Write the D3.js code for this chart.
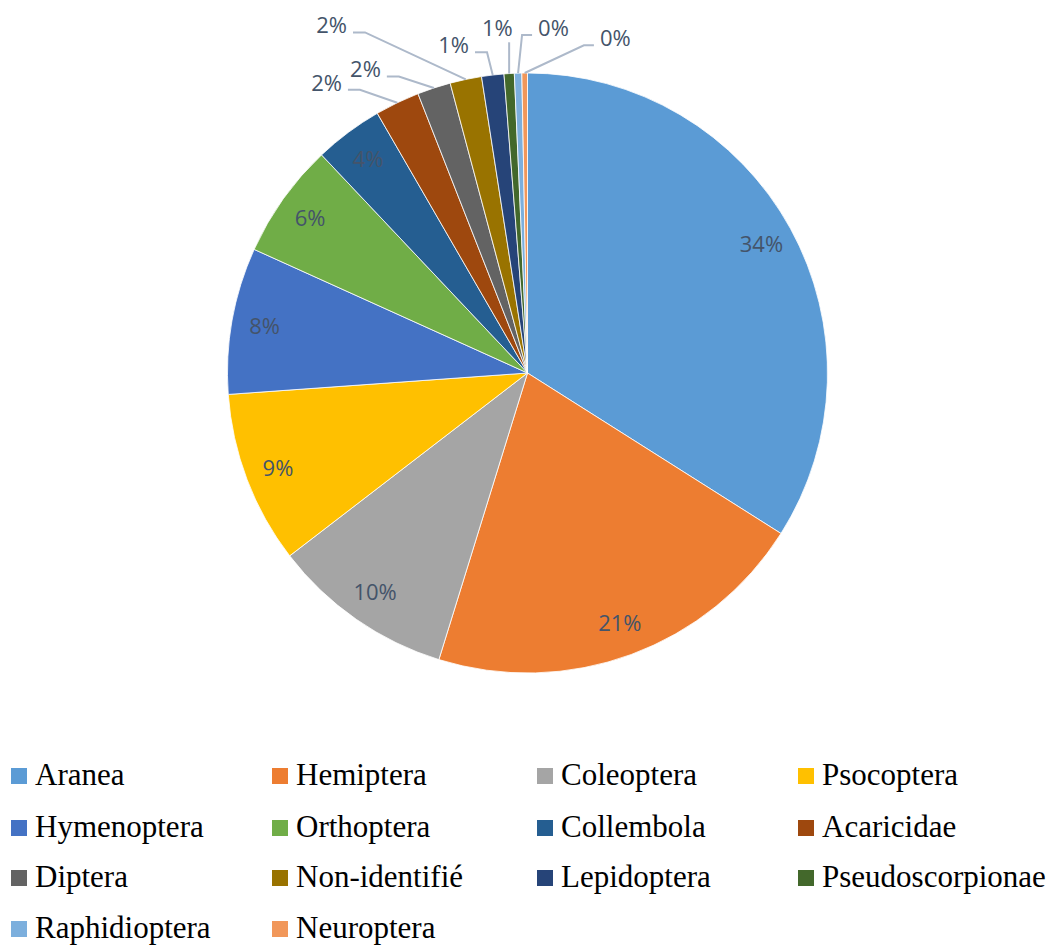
<!DOCTYPE html>
<html>
<head>
<meta charset="utf-8">
<script src="https://cdn.jsdelivr.net/npm/d3@7"></script>
<style>
body { margin: 0; background: #fff; }
svg { display: block; }
</style>
</head>
<body>
<svg id="chart" width="1059" height="947"></svg>
<script>
// share of each taxon (percent)
var categories = ["Aranea", "Hemiptera", "Coleoptera", "Psocoptera", "Hymenoptera", "Orthoptera",
	"Collembola", "Acaricidae", "Diptera", "Non-identifié", "Lepidoptera", "Pseudoscorpionae",
	"Raphidioptera", "Neuroptera"];
var values = [34.0, 20.8, 9.8, 9.3, 7.9, 6.2, 3.7, 2.4, 1.8, 1.7, 1.2, 0.55, 0.4, 0.3];
var colors = ["#5B9BD5", "#ED7D31", "#A5A5A5", "#FFC000", "#4472C4", "#70AD47",
	"#255E91", "#9E480E", "#636363", "#997300", "#264478", "#43682B", "#7CAFDD", "#F1975A"];

// where the callout labels of thin slices sit: [angle deg clockwise from top, radius]
var callouts = {
	"Acaricidae": [325.3, 353], "Diptera": [331.9, 344], "Non-identifié": [330.6, 399],
	"Lepidoptera": [347.3, 336], "Pseudoscorpionae": [355.0, 346],
	"Raphidioptera": [4.3, 346], "Neuroptera": [14.7, 346]
};

var cx = 527.5, cy = 373, radius = 300;
var svg = d3.select("#chart");
var total = d3.sum(values);
var data = categories.map(function(c, i) { return {label: c, value: values[i], color: colors[i]}; });

var pie = d3.pie().sort(null).value(function(d) { return d.value; });
var arc = d3.arc().innerRadius(0).outerRadius(radius);
var labelArc = d3.arc().innerRadius(267).outerRadius(267);
var arcs = pie(data);

var g = svg.append("g").attr("transform", "translate(" + cx + "," + cy + ")");

g.selectAll("path.slice")
	.data(arcs)
	.enter().append("path")
	.attr("class", "slice")
	.attr("d", arc)
	.style("fill", function(d) { return d.data.color; })
	.style("stroke", "#fff")
	.style("stroke-width", 0.8);

function pct(d) { return Math.round(d.data.value / total * 100) + "%"; }

/* ------- INSIDE LABELS -------*/
g.selectAll("text.inside")
	.data(arcs.filter(function(d) { return !callouts[d.data.label]; }))
	.enter().append("text")
	.attr("class", "inside")
	.attr("transform", function(d) { return "translate(" + labelArc.centroid(d) + ")"; })
	.attr("text-anchor", "middle")
	.attr("dy", "0.36em")
	.attr("font-family", "'Open Sans', sans-serif")
	.attr("font-size", "22px")
	.style("fill", "#44546A")
	.text(pct);

/* ------- CALLOUT LABELS -------*/
var outs = arcs.filter(function(d) { return callouts[d.data.label]; });
var co = g.selectAll("g.callout").data(outs).enter().append("g").attr("class", "callout");

co.each(function(d) {
	var el = d3.select(this);
	var c = callouts[d.data.label];
	var a = c[0] * Math.PI / 180;
	var lx = c[1] * Math.sin(a), ly = -c[1] * Math.cos(a);
	var mid = (d.startAngle + d.endAngle) / 2;
	var ax = radius * Math.sin(mid), ay = -radius * Math.cos(mid);

	var t = el.append("text")
		.attr("x", lx).attr("y", ly)
		.attr("text-anchor", "middle")
		.attr("dy", "0.36em")
		.attr("font-family", "'Open Sans', sans-serif")
		.attr("font-size", "22px")
		.style("fill", "#44546A")
		.text(pct(d));
	var w = t.node().getComputedTextLength();
	var left = lx - w / 2, right = lx + w / 2;
	var pts;
	if (ax > right + 4) {
		pts = [[right + 6, ly + 7], [right + 18, ly + 7], [ax, ay]];
	} else if (ax < left - 4) {
		pts = [[left - 6, ly + 7], [left - 16, ly + 7], [ax, ay]];
	} else {
		pts = [[ax, ly + 14], [ax, ay]];
	}
	el.insert("polyline", "text")
		.attr("points", pts.map(function(p) { return p.join(","); }).join(" "))
		.style("fill", "none")
		.style("stroke", "#ADB9CA")
		.style("stroke-width", 2);
});

/* ------- LEGEND -------*/
var colX = [11, 272, 537, 798], rowY = [785, 837, 887, 938];
var legend = svg.selectAll("g.legend")
	.data(data)
	.enter().append("g")
	.attr("class", "legend")
	.attr("transform", function(d, i) {
		return "translate(" + colX[i % 4] + "," + rowY[Math.floor(i / 4)] + ")";
	});

legend.append("rect")
	.attr("x", 0).attr("y", -17)
	.attr("width", 16).attr("height", 16)
	.style("fill", function(d) { return d.color; });

legend.append("text")
	.attr("x", 24).attr("y", 0)
	.attr("font-family", "'Liberation Serif', 'Times New Roman', serif")
	.attr("font-size", "31px")
	.style("fill", "#000")
	.text(function(d) { return d.label; });
</script>
</body>
</html>
